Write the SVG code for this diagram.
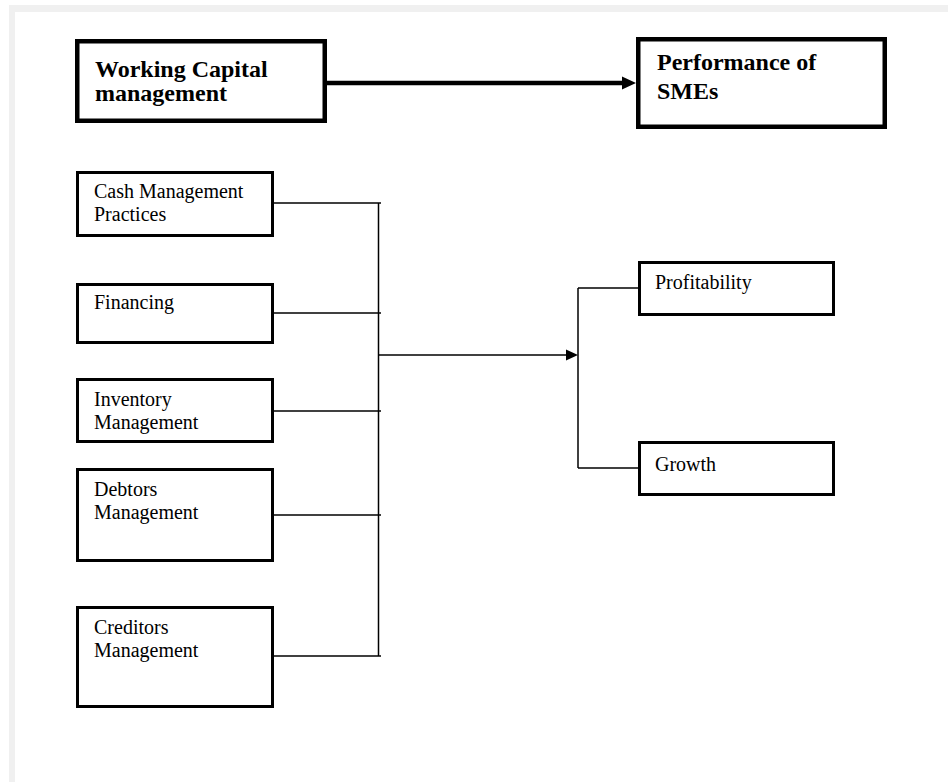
<svg xmlns="http://www.w3.org/2000/svg" width="948" height="782" viewBox="0 0 948 782">
<style>
.frame{fill:#f0f0f0}
.box{fill:#fff;stroke:#000;stroke-width:3}
.bbox{fill:#fff;stroke:#000;stroke-width:4.5}
.t{font-family:"Liberation Serif","Times New Roman",serif;font-size:20px;fill:#000}
.bt{font-family:"Liberation Serif","Times New Roman",serif;font-size:24px;font-weight:bold;fill:#000}
.ln{fill:none;stroke:#000;stroke-width:1.5}
.thick{fill:none;stroke:#000;stroke-width:4.5}
</style>
<rect x="0" y="0" width="948" height="782" fill="#fff"/>
<rect class="frame" x="9" y="5" width="939" height="7"/>
<rect class="frame" x="9" y="5" width="6" height="777"/>

<g id="connectors">
  <line class="thick" x1="327" y1="83" x2="624" y2="83"/>
  <polygon points="622,76.5 636,83 622,89.5" fill="#000"/>
  <line class="ln" x1="274" y1="203" x2="381" y2="203"/>
  <line class="ln" x1="274" y1="313" x2="381" y2="313"/>
  <line class="ln" x1="274" y1="411" x2="381" y2="411"/>
  <line class="ln" x1="274" y1="515" x2="381" y2="515"/>
  <line class="ln" x1="274" y1="656" x2="381" y2="656"/>
  <line class="ln" x1="378.5" y1="203" x2="378.5" y2="656"/>
  <line class="ln" x1="378.5" y1="355" x2="568" y2="355"/>
  <polygon points="566,349.5 578,355 566,360.5" fill="#000"/>
  <line class="ln" x1="578" y1="288" x2="578" y2="468"/>
  <line class="ln" x1="578" y1="288" x2="638" y2="288"/>
  <line class="ln" x1="578" y1="468" x2="638" y2="468"/>
</g>

<g id="node-wcm">
  <rect class="bbox" x="77.25" y="41.25" width="247.5" height="79.5"/>
  <text class="bt" x="95" y="77">Working Capital</text>
  <text class="bt" x="95" y="101">management</text>
</g>
<g id="node-perf">
  <rect class="bbox" x="638.25" y="39.25" width="246.5" height="87.5"/>
  <text class="bt" x="657" y="70">Performance of</text>
  <text class="bt" x="657" y="99">SMEs</text>
</g>

<g id="node-cash">
  <rect class="box" x="77.5" y="172.5" width="195" height="63"/>
  <text class="t" x="94" y="198">Cash Management</text>
  <text class="t" x="94" y="221">Practices</text>
</g>
<g id="node-financing">
  <rect class="box" x="77.5" y="284.5" width="195" height="58"/>
  <text class="t" x="94" y="309">Financing</text>
</g>
<g id="node-inventory">
  <rect class="box" x="77.5" y="379.5" width="195" height="62"/>
  <text class="t" x="94" y="406">Inventory</text>
  <text class="t" x="94" y="429">Management</text>
</g>
<g id="node-debtors">
  <rect class="box" x="77.5" y="469.5" width="195" height="91"/>
  <text class="t" x="94" y="496">Debtors</text>
  <text class="t" x="94" y="519">Management</text>
</g>
<g id="node-creditors">
  <rect class="box" x="77.5" y="607.5" width="195" height="99"/>
  <text class="t" x="94" y="634">Creditors</text>
  <text class="t" x="94" y="657">Management</text>
</g>
<g id="node-profitability">
  <rect class="box" x="639.5" y="262.5" width="194" height="52"/>
  <text class="t" x="655" y="289">Profitability</text>
</g>
<g id="node-growth">
  <rect class="box" x="639.5" y="442.5" width="194" height="52"/>
  <text class="t" x="655" y="471">Growth</text>
</g>
</svg>
